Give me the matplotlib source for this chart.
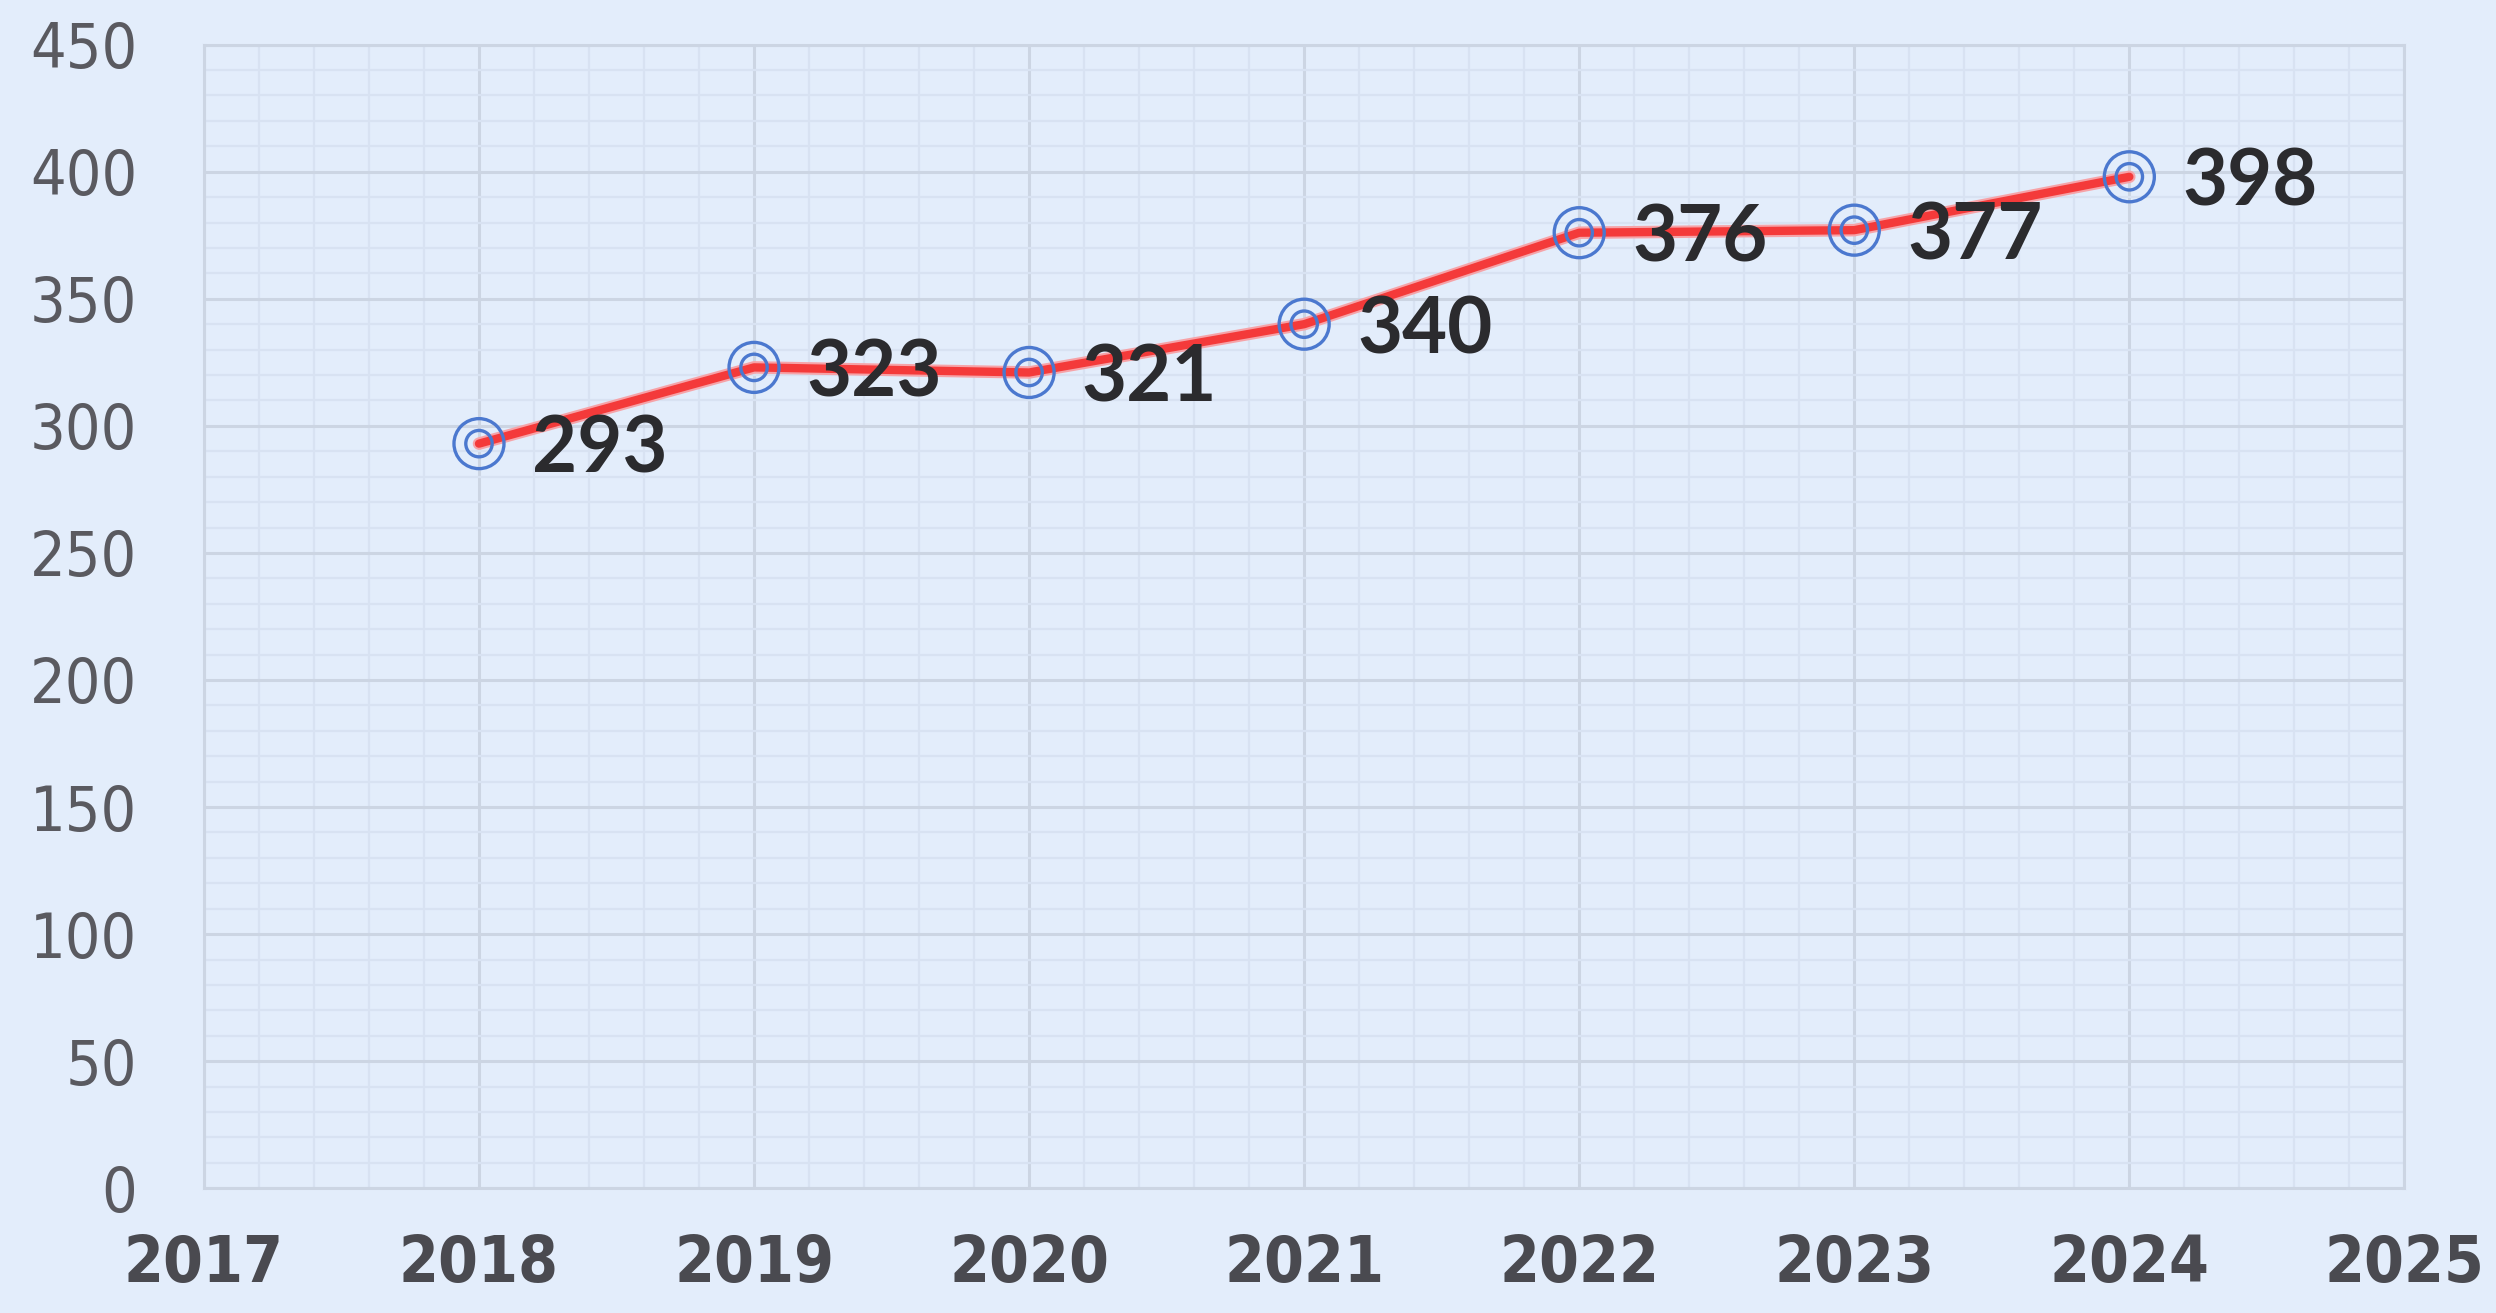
import matplotlib.pyplot as plt
import matplotlib.patheffects as pe
from matplotlib.ticker import MultipleLocator

# data
years = [2018, 2019, 2020, 2021, 2022, 2023, 2024]
values = [293, 323, 321, 340, 376, 377, 398]
x_ticks = [2017, 2018, 2019, 2020, 2021, 2022, 2023, 2024, 2025]
y_ticks = [0, 50, 100, 150, 200, 250, 300, 350, 400, 450]

bg = '#E3EDFB'
fig = plt.figure(figsize=(24.96, 13.13), dpi=100, facecolor=bg)
ax = fig.add_axes([0.0817, 0.095, 0.8816, 0.871])
ax.set_facecolor(bg)

# line with a lighter halo
ax.plot(years, values, color='#F43A3A', lw=6, zorder=3, solid_capstyle='round',
        path_effects=[pe.Stroke(linewidth=9, foreground='#F6A3A8'), pe.Normal()])

# double ring markers
ax.scatter(years, values, s=36**2, facecolors='none', edgecolors='#4B78CF', linewidths=2.4, zorder=4)
ax.scatter(years, values, s=19**2, facecolors='none', edgecolors='#4B78CF', linewidths=2.4, zorder=4)

for x, y in zip(years, values):
    ax.annotate(str(y), (x, y), xytext=(38, -5), textcoords='offset points',
                ha='left', va='center', fontsize=56, fontweight='bold',
                color='#2B2B2E', family=['Lato', 'DejaVu Sans'], zorder=5)

ax.set_xlim(2017, 2025)
ax.set_ylim(0, 450)
ax.set_xticks(x_ticks)
ax.set_yticks(y_ticks)
ax.xaxis.set_minor_locator(MultipleLocator(0.2))
ax.yaxis.set_minor_locator(MultipleLocator(10))

ax.grid(which='major', color='#CCD5E3', lw=2.2, zorder=1)
ax.grid(which='minor', color='#D8E2F2', lw=1.6, zorder=1)
ax.set_axisbelow(True)
ax.tick_params(which='both', length=0)
ax.tick_params(axis='y', pad=48, labelsize=45, labelcolor='#5A5A60')
ax.tick_params(axis='x', pad=32, labelsize=46, labelcolor='#4A4A50')
for lab in ax.get_yticklabels():
    lab.set_family('DejaVu Sans')
    lab.set_fontstretch('condensed')
for lab in ax.get_xticklabels():
    lab.set_family('DejaVu Sans')
    lab.set_fontstretch('condensed')
    lab.set_fontweight('bold')

for s in ax.spines.values():
    s.set_color('#CCD5E3')
    s.set_linewidth(2.2)

fig.savefig('out.png', dpi=100, facecolor=bg)
